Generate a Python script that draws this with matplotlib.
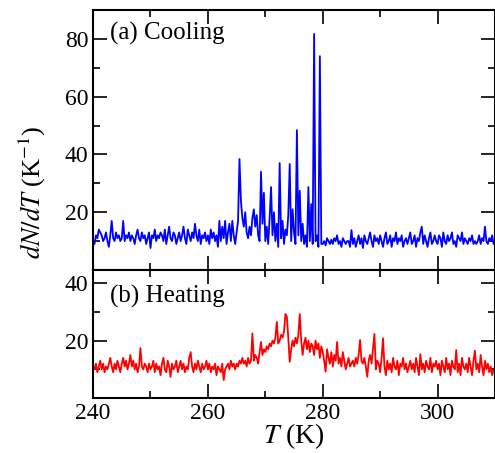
import numpy as np
import matplotlib
matplotlib.use('Agg')
import matplotlib.pyplot as plt
from matplotlib.ticker import MultipleLocator

plt.rcParams['font.family'] = ['Liberation Serif', 'DejaVu Serif']
plt.rcParams['mathtext.fontset'] = 'stix'

# temperature grid (K), step 0.25
temps = np.arange(240.0, 310.01, 0.25)

# cooling dN/dT, rows of 5 K
cooling = [
    10, 9, 12, 11, 14, 13, 12, 10, 11, 13, 10, 8, 12, 17, 11, 10, 13, 11, 12, 10,
    11, 17, 10, 12, 11, 13, 10, 12, 11, 9, 12, 14, 11, 10, 13, 11, 12, 9, 11, 13,
    7.6, 12, 11, 14, 10, 12, 11, 13, 12, 10, 14, 9, 12, 15, 11, 10, 13, 12, 9, 11,
    13, 10, 12, 15, 11, 9, 14, 12, 10, 13, 11, 16, 12, 10, 14, 9, 12, 11, 13, 10,
    12, 9, 14, 11, 13, 10, 12, 8, 17, 10, 15, 11, 17, 9, 13, 16, 10, 17, 12, 9,
    13, 17, 38.4, 24, 18, 15, 20, 13, 11, 15, 12, 18, 21, 15, 19, 12, 10, 34, 16, 26.7,
    10, 15, 9, 18, 28.7, 12, 20, 10, 16, 8, 37, 11, 17, 9, 14, 12, 19, 36.7, 10, 21,
    13, 9, 48.4, 12, 27.4, 10, 16, 9, 12, 8, 28.7, 10, 22.8, 9, 81.7, 10, 12, 8, 74, 9,
    9, 10, 8.5, 11, 10, 9, 10.5, 9, 11, 10, 12, 9, 10, 8, 11, 10, 9, 10, 10, 8,
    13.8, 9, 11, 8, 10, 12, 9, 11, 7.6, 12, 10, 9, 11, 13, 10, 8, 12, 10, 11, 9,
    12, 10, 8, 11, 13, 9, 10, 12, 8, 11, 10, 13, 9, 11, 10, 12, 8, 10, 11, 9,
    11, 13, 9, 10, 12, 8, 11, 10, 13, 15, 9, 12, 10, 8, 11, 13, 9, 10, 12, 10,
    9, 12, 11, 8, 13, 10, 9, 12, 10, 11, 13, 9, 10, 8, 12, 11, 10, 13, 9, 11,
    10, 9, 11, 10, 12, 9, 10, 9, 10, 12, 9, 11, 10, 15, 10, 9, 11, 10, 12, 9,
    10,
]

# heating dN/dT, rows of 5 K
heating = [
    11, 10, 12, 9, 11, 13, 10, 12, 9, 11, 10, 12, 14, 11, 9, 12, 10, 13, 11, 9,
    12, 14, 11, 13, 10, 12, 15, 11, 13, 10, 12, 9, 11, 17.4, 11, 10, 12, 11, 9, 12,
    10, 11, 13, 9, 12, 10, 11, 8, 12, 14, 10, 9, 13, 11, 7.4, 12, 10, 11, 13, 9,
    11, 13, 10, 12, 9, 11, 10, 14, 16, 11, 9, 12, 10, 13, 11, 9, 12, 10, 11, 13,
    10, 12, 9, 11, 10, 12, 8, 11, 10, 9, 12, 6.3, 10, 11, 12, 10, 13, 11, 12, 10,
    12, 11, 13, 12, 14, 12, 13, 11, 14, 12, 13, 22.5, 13, 15, 14, 12, 16, 19.5, 15, 17,
    16, 18, 17, 19, 18, 20, 19, 21, 26.5, 19, 20, 22, 21, 23, 29.2, 28.3, 21, 12.6, 17, 20,
    18, 21, 19, 22, 29.2, 20, 15, 19, 21, 17, 20, 16, 19, 18, 15, 20, 17, 19, 14, 18,
    16, 13, 9.2, 17, 14, 12, 16, 11, 15, 13, 19.5, 12, 14, 11, 16, 13, 10, 12, 14, 11,
    12, 13, 11, 14, 12, 15, 20.2, 13, 12, 14, 11, 7.4, 13, 15, 12, 17, 22.3, 10, 13, 12,
    9, 14, 20.8, 11, 8, 13, 10, 12, 9, 14, 11, 10, 13, 8, 12, 11, 14, 10, 12, 9,
    11, 13, 10, 12, 9, 14, 11, 8, 15.3, 10, 12, 9, 13, 11, 10, 14, 9, 12, 11, 13,
    10, 12, 8, 13, 11, 9, 14, 10, 12, 8, 13, 11, 10, 16.7, 9, 12, 8, 14, 11, 10,
    12, 9, 14, 11, 8, 13, 16.5, 10, 12, 9, 15, 11, 8, 13, 10, 12, 9, 11, 8, 10,
    9,
]

fig = plt.figure(figsize=(4.95, 4.53), dpi=100)
ax1 = fig.add_axes([0.188, 0.404, 0.812, 0.574])
ax2 = fig.add_axes([0.188, 0.121, 0.812, 0.283], sharex=ax1)

ax1.plot(temps, cooling, color='#0000ff', lw=1.3)
ax2.plot(temps, heating, color='#ff0000', lw=1.3)

ax1.set_xlim(240, 310)
ax1.set_ylim(0, 90)
ax2.set_ylim(0, 44.5)
ax1.set_yticks([20, 40, 60, 80])
ax2.set_yticks([20, 40])
ax1.yaxis.set_minor_locator(MultipleLocator(10))
ax2.yaxis.set_minor_locator(MultipleLocator(10))
ax2.xaxis.set_major_locator(MultipleLocator(20))
ax2.xaxis.set_minor_locator(MultipleLocator(10))

for ax in (ax1, ax2):
    for s in ax.spines.values():
        s.set_linewidth(1.5)
    ax.tick_params(which='both', direction='in', top=True, right=True,
                   labelsize=17, width=1.2)
    ax.tick_params(which='major', length=10)
    ax.tick_params(which='minor', length=5)
ax1.tick_params(labelbottom=False)

ax1.text(0.042, 0.885, '(a) Cooling', transform=ax1.transAxes,
         fontsize=18, va='baseline')
ax2.text(0.042, 0.742, '(b) Heating', transform=ax2.transAxes,
         fontsize=18, va='baseline')

fig.text(0.065, 0.576, r'$dN/dT$ (K$^{-1}$)', rotation=90, fontsize=19,
         ha='center', va='center')
ax2.set_xlabel(r'$T$ (K)', fontsize=20, labelpad=-2)

fig.savefig('out.png', dpi=100)
